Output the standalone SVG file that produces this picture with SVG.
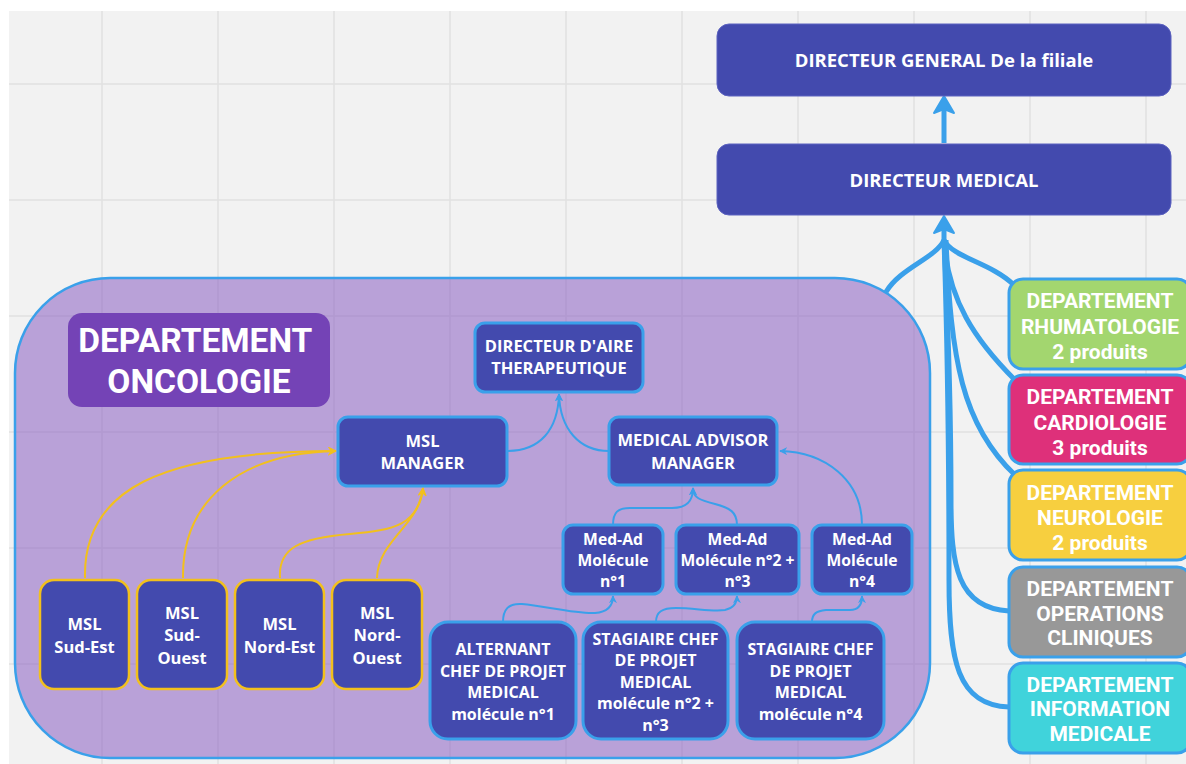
<svg xmlns="http://www.w3.org/2000/svg" width="1186" height="764" viewBox="0 0 1186 764">
  <defs>
    <style>
      .grid line { stroke: #e1e1e1; stroke-width: 1.5; }
      .node { fill: #434aae; stroke: #3aa0ea; stroke-width: 3; }
      .msl { fill: #434aae; stroke: #f2c01d; stroke-width: 2.5; }
      .top { fill: #434aae; stroke: #5c62c0; stroke-width: 1; }
      .dept { stroke: #3aa0ea; stroke-width: 3; }
      .t { font-family: "Open Sans", "DejaVu Sans", sans-serif; font-weight: 700; fill: #ffffff; text-anchor: middle; font-size: 16px; }
      .t-lg { font-size: 16.5px; }
      .t-md { font-size: 15.7px; }
      .t-head { font-size: 18.5px; }
      .tb { font-family: Roboto, "Liberation Sans", sans-serif; font-weight: 700; fill: #ffffff; text-anchor: middle; font-size: 21px; }
      .thin { fill: none; stroke: #3aa0ea; stroke-width: 2; }
      .gold { fill: none; stroke: #f2c01d; stroke-width: 2; }
      .thick { fill: none; stroke: #3aa0ea; stroke-width: 5; }
    </style>
    <marker id="ah-blue" viewBox="0 0 10 10" refX="9" refY="5" markerWidth="8" markerHeight="8" markerUnits="userSpaceOnUse" orient="auto">
      <path d="M0,0 L10,5 L0,10 L3,5 Z" fill="#3aa0ea"/>
    </marker>
    <marker id="ah-gold" viewBox="0 0 10 10" refX="9" refY="5" markerWidth="9" markerHeight="9" markerUnits="userSpaceOnUse" orient="auto">
      <path d="M0,0 L10,5 L0,10 L3,5 Z" fill="#f2c01d"/>
    </marker>
  </defs>

  <!-- canvas with grid -->
  <rect x="0" y="0" width="1186" height="764" fill="#ffffff"/>
  <rect x="9" y="11" width="1177" height="753" fill="#f2f2f2"/>
  <g class="grid">
    <line x1="102" y1="11" x2="102" y2="764"/>
    <line x1="218" y1="11" x2="218" y2="764"/>
    <line x1="334" y1="11" x2="334" y2="764"/>
    <line x1="450" y1="11" x2="450" y2="764"/>
    <line x1="566" y1="11" x2="566" y2="764"/>
    <line x1="682" y1="11" x2="682" y2="764"/>
    <line x1="798" y1="11" x2="798" y2="764"/>
    <line x1="914" y1="11" x2="914" y2="764"/>
    <line x1="1030" y1="11" x2="1030" y2="764"/>
    <line x1="1146" y1="11" x2="1146" y2="764"/>
    <line x1="9" y1="84" x2="1186" y2="84"/>
    <line x1="9" y1="200" x2="1186" y2="200"/>
    <line x1="9" y1="316" x2="1186" y2="316"/>
    <line x1="9" y1="432" x2="1186" y2="432"/>
    <line x1="9" y1="548" x2="1186" y2="548"/>
    <line x1="9" y1="664" x2="1186" y2="664"/>
  </g>

  <!-- oncology department frame -->
  <g id="oncology-frame">
    <rect x="15" y="278" width="915" height="480" rx="95" ry="95" fill="#8a5fc3" fill-opacity="0.55" stroke="#3aa0ea" stroke-width="2.5"/>
  </g>

  <g id="oncology-label">
    <rect x="68" y="313" width="262" height="94" rx="14" fill="#7443b6"/>
    <text class="tb" style="font-size:33.5px">
      <tspan x="199" y="352">DEPARTEMENT</tspan>
      <tspan x="199" y="393">ONCOLOGIE</tspan>
    </text>
  </g>

  <!-- connectors -->
  <g id="connectors">
    <!-- head office -->
    <line class="thick" x1="944" y1="143" x2="944" y2="108"/>
    <path d="M944,96 L954,113 L944,109 L934,113 Z" fill="#3aa0ea" stroke="#3aa0ea" stroke-width="2" stroke-linejoin="round"/>
    <path class="thick" d="M886,292 C900,268 936,258 944,240"/>
    <path class="thick" d="M1014,285 C990,262 953,258 944,240"/>
    <path class="thick" d="M1015,380 C975,340 948,300 944,240"/>
    <path class="thick" d="M1015,475 C962,425 951,360 946,240"/>
    <path class="thick" d="M1009,611 C957,608 951,565 951,500 C951,400 947,300 944,240"/>
    <path class="thick" d="M1009,707 C957,705 949,660 949,580 C949,420 946,300 944,240"/>
    <line class="thick" x1="944" y1="242" x2="944" y2="226"/>
    <path d="M944,216 L954,233 L944,229 L934,233 Z" fill="#3aa0ea" stroke="#3aa0ea" stroke-width="2" stroke-linejoin="round"/>

    <!-- managers to therapeutic area director -->
    <path class="thin" d="M507,451 C540,451 558,430 559,394" marker-end="url(#ah-blue)"/>
    <path class="thin" d="M609,451 C580,451 560,430 559,394" marker-end="url(#ah-blue)"/>

    <!-- med-ad to medical advisor manager -->
    <path class="thin" d="M613,525 C613,512 618,508 630,508 L672,508 C688,508 693,500 693,488" marker-end="url(#ah-blue)"/>
    <path class="thin" d="M737,525 C737,512 730,508 715,504 C700,500 693,498 693,488" marker-end="url(#ah-blue)"/>
    <path class="thin" d="M862,525 C862,480 825,452 780,451" marker-end="url(#ah-blue)"/>

    <!-- project staff to med-ad -->
    <path class="thin" d="M503,622 C503,610 508,603 522,604 C545,606 575,614 595,613 C608,612 613,606 613,596" marker-end="url(#ah-blue)"/>
    <path class="thin" d="M656,622 C656,612 662,608 676,608 C695,608 712,612 725,610 C734,608 737,603 737,596" marker-end="url(#ah-blue)"/>
    <path class="thin" d="M812,622 C812,614 816,611 826,610 L850,610 C858,610 862,605 862,596" marker-end="url(#ah-blue)"/>

    <!-- regional MSLs to MSL manager -->
    <path class="gold" d="M85,578 C83,490 160,451 336,451" marker-end="url(#ah-gold)"/>
    <path class="gold" d="M183,578 C182,500 240,453 336,451" marker-end="url(#ah-gold)"/>
    <path class="gold" d="M280,578 C278,548 300,538 350,534 C395,530 418,525 423,488" marker-end="url(#ah-gold)"/>
    <path class="gold" d="M377,578 C378,540 420,525 423,488" marker-end="url(#ah-gold)"/>
  </g>

  <!-- head office -->
  <g id="directeur-general">
    <rect class="top" x="717" y="24" width="454" height="72" rx="12"/>
    <text class="t t-head" x="944" y="66.5">DIRECTEUR GENERAL De la filiale</text>
  </g>
  <g id="directeur-medical">
    <rect class="top" x="717" y="144" width="454" height="71" rx="12"/>
    <text class="t t-head" x="944" y="186.5">DIRECTEUR MEDICAL</text>
  </g>

  <!-- oncology team -->
  <g id="directeur-aire">
    <rect class="node" x="475" y="323" width="168" height="69" rx="10"/>
    <text class="t t-lg"><tspan x="559" y="351.5">DIRECTEUR D'AIRE</tspan><tspan x="559" y="374">THERAPEUTIQUE</tspan></text>
  </g>
  <g id="msl-manager">
    <rect class="node" x="338" y="417" width="169" height="69" rx="10"/>
    <text class="t t-lg"><tspan x="422.5" y="446.5">MSL</tspan><tspan x="422.5" y="468.5">MANAGER</tspan></text>
  </g>
  <g id="medical-advisor-manager">
    <rect class="node" x="609" y="417" width="168" height="68" rx="10"/>
    <text class="t t-lg"><tspan x="693" y="446">MEDICAL ADVISOR</tspan><tspan x="693" y="468.5">MANAGER</tspan></text>
  </g>

  <g id="med-ad-1">
    <rect class="node" x="563" y="525" width="100" height="69" rx="10"/>
    <text class="t t-md"><tspan x="613" y="544.5">Med-Ad</tspan><tspan x="613" y="565.5">Molécule</tspan><tspan x="613" y="587">n°1</tspan></text>
  </g>
  <g id="med-ad-2-3">
    <rect class="node" x="676" y="525" width="123" height="69" rx="10"/>
    <text class="t t-md"><tspan x="737.5" y="544.5">Med-Ad</tspan><tspan x="737.5" y="565.5">Molécule n°2 +</tspan><tspan x="737.5" y="587">n°3</tspan></text>
  </g>
  <g id="med-ad-4">
    <rect class="node" x="812" y="525" width="100" height="69" rx="10"/>
    <text class="t t-md"><tspan x="862" y="544.5">Med-Ad</tspan><tspan x="862" y="565.5">Molécule</tspan><tspan x="862" y="587">n°4</tspan></text>
  </g>

  <g id="alternant">
    <rect class="node" x="430" y="622" width="146" height="117" rx="18"/>
    <text class="t"><tspan x="503" y="655">ALTERNANT</tspan><tspan x="503" y="676.5">CHEF DE PROJET</tspan><tspan x="503" y="698">MEDICAL</tspan><tspan x="503" y="720">molécule n°1</tspan></text>
  </g>
  <g id="stagiaire-2-3">
    <rect class="node" x="583" y="622" width="145" height="117" rx="18"/>
    <text class="t"><tspan x="655.5" y="645">STAGIAIRE CHEF</tspan><tspan x="655.5" y="666">DE PROJET</tspan><tspan x="655.5" y="687.5">MEDICAL</tspan><tspan x="655.5" y="709">molécule n°2 +</tspan><tspan x="655.5" y="731">n°3</tspan></text>
  </g>
  <g id="stagiaire-4">
    <rect class="node" x="737" y="622" width="147" height="117" rx="18"/>
    <text class="t"><tspan x="810.5" y="655">STAGIAIRE CHEF</tspan><tspan x="810.5" y="676.5">DE PROJET</tspan><tspan x="810.5" y="698">MEDICAL</tspan><tspan x="810.5" y="720">molécule n°4</tspan></text>
  </g>

  <g id="msl-sud-est">
    <rect class="msl" x="40" y="580" width="89" height="109" rx="14"/>
    <text class="t t-lg"><tspan x="84.5" y="630">MSL</tspan><tspan x="84.5" y="652.5">Sud-Est</tspan></text>
  </g>
  <g id="msl-sud-ouest">
    <rect class="msl" x="137" y="580" width="90" height="109" rx="14"/>
    <text class="t t-lg"><tspan x="182" y="618.5">MSL</tspan><tspan x="182" y="641">Sud-</tspan><tspan x="182" y="663.5">Ouest</tspan></text>
  </g>
  <g id="msl-nord-est">
    <rect class="msl" x="235" y="580" width="89" height="109" rx="14"/>
    <text class="t t-lg"><tspan x="279.5" y="630">MSL</tspan><tspan x="279.5" y="652.5">Nord-Est</tspan></text>
  </g>
  <g id="msl-nord-ouest">
    <rect class="msl" x="332" y="580" width="90" height="109" rx="14"/>
    <text class="t t-lg"><tspan x="377" y="618.5">MSL</tspan><tspan x="377" y="641">Nord-</tspan><tspan x="377" y="663.5">Ouest</tspan></text>
  </g>

  <!-- other departments -->
  <g id="dept-rhumatologie">
    <rect class="dept" x="1009" y="279" width="182" height="90" rx="14" fill="#a3d66f"/>
    <text class="tb"><tspan x="1100" y="308">DEPARTEMENT</tspan><tspan x="1100" y="333.5">RHUMATOLOGIE</tspan><tspan x="1100" y="358.5">2 produits</tspan></text>
  </g>
  <g id="dept-cardiologie">
    <rect class="dept" x="1009" y="375" width="182" height="89" rx="14" fill="#de307a"/>
    <text class="tb"><tspan x="1100" y="404">DEPARTEMENT</tspan><tspan x="1100" y="429.5">CARDIOLOGIE</tspan><tspan x="1100" y="454.5">3 produits</tspan></text>
  </g>
  <g id="dept-neurologie">
    <rect class="dept" x="1009" y="470" width="182" height="90" rx="14" fill="#f7cf3f"/>
    <text class="tb"><tspan x="1100" y="499.5">DEPARTEMENT</tspan><tspan x="1100" y="525">NEUROLOGIE</tspan><tspan x="1100" y="550">2 produits</tspan></text>
  </g>
  <g id="dept-operations">
    <rect class="dept" x="1009" y="567" width="182" height="90" rx="14" fill="#989898"/>
    <text class="tb"><tspan x="1100" y="595.5">DEPARTEMENT</tspan><tspan x="1100" y="620.5">OPERATIONS</tspan><tspan x="1100" y="645">CLINIQUES</tspan></text>
  </g>
  <g id="dept-information">
    <rect class="dept" x="1009" y="663" width="182" height="90" rx="14" fill="#40d3db"/>
    <text class="tb"><tspan x="1100" y="691.5">DEPARTEMENT</tspan><tspan x="1100" y="716">INFORMATION</tspan><tspan x="1100" y="740.5">MEDICALE</tspan></text>
  </g>
</svg>
